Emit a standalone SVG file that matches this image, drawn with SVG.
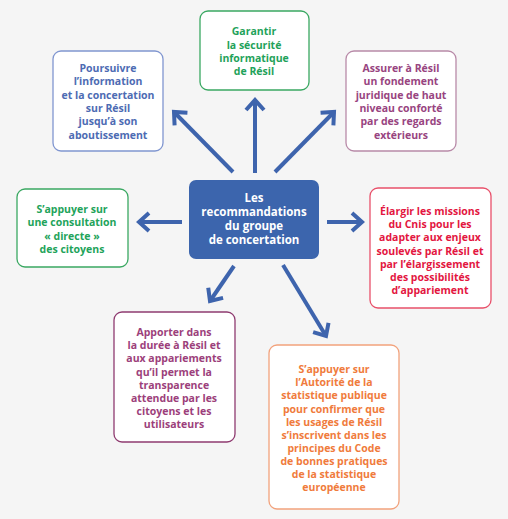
<svg xmlns="http://www.w3.org/2000/svg" width="508" height="519" viewBox="0 0 508 519">
<style>
text{font-family:"Open Sans","Liberation Sans",sans-serif;font-weight:700;font-size:10.5px;text-anchor:middle}
.box{fill:#ffffff;stroke-width:1.3}
.arr{stroke:#3e64ad;stroke-width:4;fill:none;marker-end:url(#ah)}
.c{font-size:11.5px;fill:#ffffff}
</style>
<defs>
<marker id="ah" markerUnits="userSpaceOnUse" markerWidth="24" markerHeight="24" viewBox="-14 -12 16 24" refX="0" refY="0" orient="auto">
<path d="M-10,-9 L0,0 L-10,9" fill="none" stroke="#3e64ad" stroke-width="4"/>
</marker>
</defs>
<rect width="508" height="519" fill="#f5f5f5"/>
<g id="connectors">
<line class="arr" x1="233" y1="172" x2="174" y2="112"/>
<line class="arr" x1="255" y1="173" x2="255" y2="100"/>
<line class="arr" x1="275" y1="172" x2="334" y2="112"/>
<line class="arr" x1="182" y1="222" x2="139" y2="222"/>
<line class="arr" x1="327" y1="222" x2="362" y2="222"/>
<line class="arr" x1="234" y1="266" x2="210" y2="301"/>
<line class="arr" x1="283" y1="265" x2="326" y2="336"/>
</g>
<g id="center">
<rect x="189" y="180" width="130" height="79" rx="7" fill="#3c65ad"/>
<text class="c" x="254" y="202">Les</text>
<text class="c" x="254" y="216">recommandations</text>
<text class="c" x="254" y="230">du groupe</text>
<text class="c" x="254" y="244">de concertation</text>
</g>
<g id="n1" fill="#4d6bb3">
<rect class="box" x="53" y="51" width="110" height="100" rx="8" stroke="#8096d0"/>
<text x="108" y="72">Poursuivre</text>
<text x="108" y="85">l’information</text>
<text x="108" y="99">et la concertation</text>
<text x="108" y="112">sur Résil</text>
<text x="108" y="125">jusqu’à son</text>
<text x="108" y="139">aboutissement</text>
</g>
<g id="n2" fill="#1fa25a">
<rect class="box" x="200" y="11" width="109" height="79" rx="8" stroke="#3aa862"/>
<text x="254" y="35">Garantir</text>
<text x="254" y="48.5">la sécurité</text>
<text x="254" y="62">informatique</text>
<text x="254" y="75">de Résil</text>
</g>
<g id="n3" fill="#98447f">
<rect class="box" x="346" y="51" width="110" height="100" rx="8" stroke="#b88aa8"/>
<text x="401" y="72">Assurer à Résil</text>
<text x="401" y="85">un fondement</text>
<text x="401" y="99">juridique de haut</text>
<text x="401" y="112">niveau conforté</text>
<text x="401" y="125">par des regards</text>
<text x="401" y="139">extérieurs</text>
</g>
<g id="n4" fill="#22a35a">
<rect class="box" x="17" y="189" width="111" height="78" rx="8" stroke="#3aa862"/>
<text x="72" y="213">S’appuyer sur</text>
<text x="72" y="226">une consultation</text>
<text x="72" y="240">« directe »</text>
<text x="72" y="253">des citoyens</text>
</g>
<g id="n5" fill="#e3163f">
<rect class="box" x="370" y="188" width="121" height="120" rx="8" stroke="#e8506a"/>
<text x="430" y="215">Élargir les missions</text>
<text x="430" y="228">du Cnis pour les</text>
<text x="430" y="241">adapter aux enjeux</text>
<text x="430" y="255">soulevés par Résil et</text>
<text x="430" y="268">par l’élargissement</text>
<text x="430" y="281">des possibilités</text>
<text x="430" y="294">d’appariement</text>
</g>
<g id="n6" fill="#9c3f7b">
<rect class="box" x="114" y="312" width="121" height="130" rx="8" stroke="#8f3b70"/>
<text x="174" y="336">Apporter dans</text>
<text x="174" y="349">la durée à Résil et</text>
<text x="174" y="362">aux appariements</text>
<text x="174" y="376">qu’il permet la</text>
<text x="174" y="389">transparence</text>
<text x="174" y="402">attendue par les</text>
<text x="174" y="415">citoyens et les</text>
<text x="174" y="428">utilisateurs</text>
</g>
<g id="n7" fill="#f07b3c">
<rect class="box" x="269" y="345" width="130" height="164" rx="8" stroke="#f2a27c"/>
<text x="334" y="373">S’appuyer sur</text>
<text x="334" y="386">l’Autorité de la</text>
<text x="334" y="399">statistique publique</text>
<text x="334" y="413">pour confirmer que</text>
<text x="334" y="426">les usages de Résil</text>
<text x="334" y="439">s’inscrivent dans les</text>
<text x="334" y="452">principes du Code</text>
<text x="334" y="465">de bonnes pratiques</text>
<text x="334" y="478">de la statistique</text>
<text x="334" y="491">européenne</text>
</g>
</svg>
